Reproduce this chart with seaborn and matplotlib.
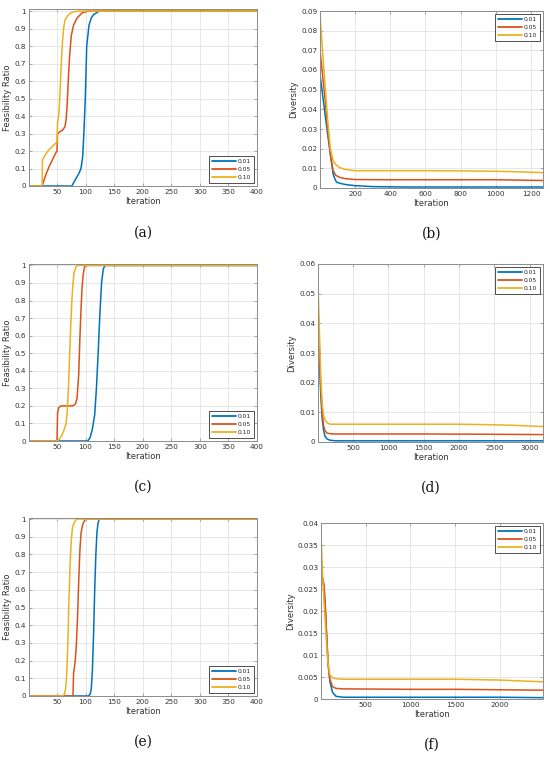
import numpy as np
import pandas as pd
import matplotlib
matplotlib.use("Agg")
import matplotlib.pyplot as plt
import seaborn as sns

# ---------------- data ----------------
series_names = ["0.01", "0.05", "0.10"]
colors = ["#0072BD", "#D95319", "#EDB120"]

# (a) feasibility ratio
a_x_001 = [1, 76, 81, 88, 92, 95, 97, 99.5, 102, 106, 110, 114, 119, 124, 400]
a_y_001 = [0, 0, 0.03, 0.07, 0.1, 0.17, 0.3, 0.5, 0.8, 0.92, 0.96, 0.98, 0.99, 1, 1]
a_x_005 = [1, 24, 26, 30, 36, 42, 48, 50, 51, 55, 60, 64, 66, 68, 70, 72, 75, 79, 85, 94, 104, 400]
a_y_005 = [0, 0, 0.02, 0.06, 0.11, 0.15, 0.19, 0.2, 0.3, 0.31, 0.32, 0.34, 0.38, 0.48, 0.62, 0.74, 0.86, 0.92, 0.96, 0.99, 1, 1]
a_x_010 = [1, 24, 24.5, 28, 34, 40, 46, 50, 51, 53.5, 55.5, 57.5, 59.5, 61.5, 64, 68, 72, 78, 88, 400]
a_y_010 = [0, 0, 0.15, 0.17, 0.2, 0.22, 0.24, 0.25, 0.36, 0.42, 0.55, 0.7, 0.82, 0.9, 0.95, 0.97, 0.985, 0.995, 1, 1]

# (b) diversity
b_x_001 = [1, 15, 29, 45, 57, 68, 76, 86, 95, 110, 123, 150, 200, 300, 500, 800, 1100, 1268]
b_y_001 = [0.058, 0.048, 0.038, 0.027, 0.019, 0.012, 0.007, 0.0045, 0.003, 0.0025, 0.0022, 0.0017, 0.0012, 0.0007, 0.0005, 0.0005, 0.0005, 0.0005]
b_x_005 = [1, 15, 30, 45, 60, 75, 90, 110, 140, 200, 400, 800, 1000, 1268]
b_y_005 = [0.07, 0.058, 0.045, 0.03, 0.017, 0.009, 0.0065, 0.0055, 0.0048, 0.0043, 0.0042, 0.0042, 0.0042, 0.0038]
b_x_010 = [1, 15, 30, 45, 60, 75, 90, 110, 140, 200, 400, 600, 800, 1000, 1100, 1268]
b_y_010 = [0.088, 0.07, 0.052, 0.034, 0.02, 0.014, 0.012, 0.0105, 0.0095, 0.0088, 0.0088, 0.0088, 0.0087, 0.0085, 0.0083, 0.0078]

# (c) feasibility ratio
c_x_001 = [1, 104, 108, 112, 116, 119, 122, 125, 128, 131, 134, 400]
c_y_001 = [0, 0, 0.02, 0.07, 0.15, 0.3, 0.5, 0.72, 0.9, 0.98, 1, 1]
c_x_005 = [1, 50, 51, 53, 57, 62, 70, 78, 82, 85, 88, 90, 92, 94, 96, 98, 100, 400]
c_y_005 = [0, 0, 0.16, 0.19, 0.2, 0.2, 0.2, 0.2, 0.21, 0.24, 0.38, 0.58, 0.75, 0.88, 0.95, 0.99, 1, 1]
c_x_010 = [1, 50, 54, 58, 62, 66, 68, 70, 72, 74, 76, 78, 80, 83, 86, 400]
c_y_010 = [0, 0, 0.01, 0.03, 0.06, 0.1, 0.17, 0.3, 0.48, 0.65, 0.8, 0.9, 0.96, 0.99, 1, 1]

# (d) diversity
d_x_001 = [1, 20, 40, 60, 80, 100, 130, 170, 250, 500, 1500, 2500, 3190]
d_y_001 = [0.04, 0.028, 0.016, 0.008, 0.004, 0.002, 0.001, 0.0006, 0.0004, 0.0004, 0.0004, 0.0004, 0.0004]
d_x_005 = [1, 20, 40, 60, 80, 100, 130, 170, 250, 500, 1500, 2500, 3190]
d_y_005 = [0.046, 0.032, 0.019, 0.01, 0.0055, 0.0038, 0.003, 0.0028, 0.0027, 0.0027, 0.0027, 0.0026, 0.0025]
d_x_010 = [1, 20, 40, 60, 80, 100, 130, 170, 250, 500, 1500, 2000, 2500, 2800, 3190]
d_y_010 = [0.054, 0.038, 0.022, 0.013, 0.009, 0.0075, 0.0065, 0.006, 0.006, 0.006, 0.006, 0.006, 0.0058, 0.0056, 0.0052]

# (e) feasibility ratio
e_x_001 = [1, 105, 108, 110, 112, 114, 116, 118, 120, 122, 124, 400]
e_y_001 = [0, 0, 0.01, 0.04, 0.15, 0.35, 0.6, 0.8, 0.93, 0.98, 1, 1]
e_x_005 = [1, 78, 79, 80, 82, 84, 86, 88, 90, 92, 95, 98, 100, 400]
e_y_005 = [0, 0, 0.13, 0.15, 0.2, 0.3, 0.45, 0.65, 0.82, 0.92, 0.97, 0.99, 1, 1]
e_x_010 = [1, 60, 63, 65, 67, 69, 71, 73, 75, 77, 80, 83, 86, 400]
e_y_010 = [0, 0, 0.01, 0.04, 0.12, 0.3, 0.55, 0.75, 0.88, 0.95, 0.98, 0.995, 1, 1]

# (f) diversity
f_x_001 = [1, 10, 20, 35, 50, 65, 80, 100, 130, 170, 250, 1000, 2000, 2480]
f_y_001 = [0.026, 0.027, 0.0272, 0.025, 0.02, 0.014, 0.008, 0.004, 0.0015, 0.0006, 0.0004, 0.0004, 0.0004, 0.0003]
f_x_005 = [1, 10, 20, 35, 50, 65, 80, 100, 130, 170, 250, 1000, 1500, 2000, 2480]
f_y_005 = [0.026, 0.027, 0.0275, 0.026, 0.021, 0.014, 0.008, 0.0045, 0.0028, 0.0024, 0.0023, 0.0022, 0.0022, 0.0021, 0.002]
f_x_010 = [1, 10, 20, 35, 50, 65, 80, 100, 130, 170, 250, 1000, 1500, 2000, 2480]
f_y_010 = [0.037, 0.033, 0.028, 0.022, 0.017, 0.012, 0.008, 0.0055, 0.0048, 0.0046, 0.0045, 0.0045, 0.0045, 0.0043, 0.0039]

feas_yticks = [0, 0.1, 0.2, 0.3, 0.4, 0.5, 0.6, 0.7, 0.8, 0.9, 1]
feas_yticklabels = ["0", "0.1", "0.2", "0.3", "0.4", "0.5", "0.6", "0.7", "0.8", "0.9", "1"]
feas_xticks = [50, 100, 150, 200, 250, 300, 350, 400]

b_yticks = [0, 0.01, 0.02, 0.03, 0.04, 0.05, 0.06, 0.07, 0.08, 0.09]
b_yticklabels = ["0", "0.01", "0.02", "0.03", "0.04", "0.05", "0.06", "0.07", "0.08", "0.09"]
b_xticks = [200, 400, 600, 800, 1000, 1200]
d_yticks = [0, 0.01, 0.02, 0.03, 0.04, 0.05, 0.06]
d_yticklabels = ["0", "0.01", "0.02", "0.03", "0.04", "0.05", "0.06"]
d_xticks = [500, 1000, 1500, 2000, 2500, 3000]
f_yticks = [0, 0.005, 0.01, 0.015, 0.02, 0.025, 0.03, 0.035, 0.04]
f_yticklabels = ["0", "0.005", "0.01", "0.015", "0.02", "0.025", "0.03", "0.035", "0.04"]
f_xticks = [500, 1000, 1500, 2000]

panel_letters = ["(a)", "(b)", "(c)", "(d)", "(e)", "(f)"]

# ---------------- style ----------------
sns.set_theme(style="white")
plt.rcParams["font.family"] = ["DejaVu Sans"]

W, H = 550, 760
fig = plt.figure(figsize=(W / 100, H / 100), dpi=100)

def box(l, t, r, b):
    return [l / W, 1 - b / H, (r - l) / W, (b - t) / H]

panels = [
    dict(rect=box(29, 9, 257, 186), xs=[a_x_001, a_x_005, a_x_010], ys=[a_y_001, a_y_005, a_y_010],
         xlim=(1, 400), ylim=(0, 1.012), xt=feas_xticks, yt=feas_yticks, ytl=feas_yticklabels,
         ylabel="Feasibility Ratio", loc="lower right", lab_y=233),
    dict(rect=box(320, 11, 543, 188), xs=[b_x_001, b_x_005, b_x_010], ys=[b_y_001, b_y_005, b_y_010],
         xlim=(1, 1268), ylim=(0, 0.09), xt=b_xticks, yt=b_yticks, ytl=b_yticklabels,
         ylabel="Diversity", loc="upper right", lab_y=234),
    dict(rect=box(29, 264, 257, 441), xs=[c_x_001, c_x_005, c_x_010], ys=[c_y_001, c_y_005, c_y_010],
         xlim=(1, 400), ylim=(0, 1.008), xt=feas_xticks, yt=feas_yticks, ytl=feas_yticklabels,
         ylabel="Feasibility Ratio", loc="lower right", lab_y=487),
    dict(rect=box(318, 264, 543, 442), xs=[d_x_001, d_x_005, d_x_010], ys=[d_y_001, d_y_005, d_y_010],
         xlim=(1, 3190), ylim=(0, 0.06), xt=d_xticks, yt=d_yticks, ytl=d_yticklabels,
         ylabel="Diversity", loc="upper right", lab_y=488),
    dict(rect=box(29, 518, 257, 696), xs=[e_x_001, e_x_005, e_x_010], ys=[e_y_001, e_y_005, e_y_010],
         xlim=(1, 400), ylim=(0, 1.006), xt=feas_xticks, yt=feas_yticks, ytl=feas_yticklabels,
         ylabel="Feasibility Ratio", loc="lower right", lab_y=742),
    dict(rect=box(321, 523, 543, 699), xs=[f_x_001, f_x_005, f_x_010], ys=[f_y_001, f_y_005, f_y_010],
         xlim=(1, 2480), ylim=(0, 0.04), xt=f_xticks, yt=f_yticks, ytl=f_yticklabels,
         ylabel="Diversity", loc="upper right", lab_y=745),
]

spine_col = "#8c8c8c"
for i, p in enumerate(panels):
    ax = fig.add_axes(p["rect"])
    for name, col, xv, yv in zip(series_names, colors, p["xs"], p["ys"]):
        df = pd.DataFrame({"Iteration": xv, "value": yv})
        sns.lineplot(data=df, x="Iteration", y="value", ax=ax, color=col, lw=1.1,
                     label=name, sort=False, estimator=None)
    ax.set_xlim(*p["xlim"])
    ax.set_ylim(*p["ylim"])
    ax.set_xticks(p["xt"])
    ax.set_xticklabels([str(v) for v in p["xt"]])
    ax.set_yticks(p["yt"])
    ax.set_yticklabels(p["ytl"])
    ax.grid(True, color="#e3e3e3", lw=0.6)
    ax.set_axisbelow(True)
    for s in ax.spines.values():
        s.set_visible(True)
        s.set_color(spine_col)
        s.set_linewidth(0.7)
    ax.tick_params(direction="in", length=2.5, width=0.5, color=spine_col,
                   labelsize=5.2, labelcolor="#333333", pad=2, top=True, right=True,
                   bottom=True, left=True)
    ax.set_xlabel("Iteration", fontsize=6, color="#333333", labelpad=1.5)
    ax.set_ylabel(p["ylabel"], fontsize=6, color="#333333", labelpad=2)
    leg = ax.legend(loc=p["loc"], prop={"size": 4.3}, frameon=True, fancybox=False,
                    framealpha=1, edgecolor="#333333", handlelength=3.9,
                    handletextpad=0.35, borderpad=0.5, labelspacing=0.45,
                    borderaxespad=0.5)
    leg.get_frame().set_linewidth(0.6)
    for h in leg.get_lines():
        h.set_linewidth(1.3)
    for t in leg.get_texts():
        t.set_color("#222222")
    l, b, w, h = p["rect"]
    fig.text(l + w / 2, 1 - p["lab_y"] / H, panel_letters[i], ha="center", va="center",
             fontsize=10, family=["DejaVu Serif"], color="#111111")

fig.savefig("out.png", dpi=100, facecolor="white")
